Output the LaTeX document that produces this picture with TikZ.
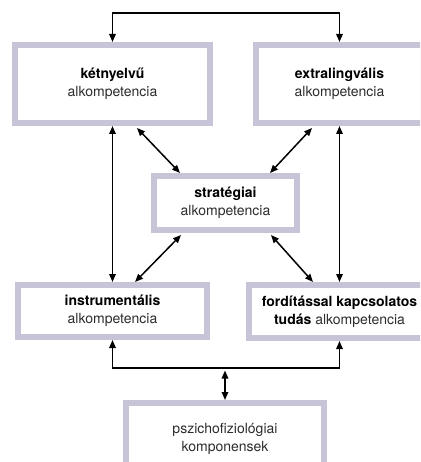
\documentclass[tikz,border=0pt]{standalone}
\usepackage{fontspec}
\setmainfont{TeX Gyre Heros}
\usetikzlibrary{arrows.meta}
\definecolor{boxborder}{RGB}{198,196,214}
\definecolor{txtgray}{RGB}{45,45,45}
\tikzset{
  compbox/.style={draw=boxborder, line width=6pt, fill=white, align=center,
    inner sep=0pt, font=\fontsize{14}{18}\selectfont, text=txtgray},
  dbl/.style={line width=1.5pt, {Triangle[length=8pt,width=6.5pt]}-{Triangle[length=8pt,width=6.5pt]}},
}
\begin{document}
\begin{tikzpicture}[x=1pt,y=-1pt]
\useasboundingbox (0,0) rectangle (420,462);
\clip (0,0) rectangle (420,462);
\node[compbox, minimum width=195pt, minimum height=78pt] (k) at (112.5,84)
  {\textbf{\color{black}kétnyelvű}\\alkompetencia};
\node[compbox, minimum width=167pt, minimum height=78pt] (e) at (339.5,84)
  {\textbf{\color{black}extralingvális}\\alkompetencia};
\node[compbox, minimum width=143pt, minimum height=54pt] (s) at (225.5,203)
  {\textbf{\color{black}stratégiai}\\alkompetencia};
\node[compbox, minimum width=189pt, minimum height=52pt] (i) at (112.5,311)
  {\textbf{\color{black}instrumentális}\\alkompetencia};
\node[compbox, minimum width=181pt, minimum height=53pt] (f) at (339.5,311.5)
  {\textbf{\color{black}fordítással kapcsolatos}\\\textbf{\color{black}tudás} alkompetencia};
\node[compbox, minimum width=198pt, minimum height=72pt] (p) at (225,439)
  {pszichofiziológiai\\komponensek};
\coordinate (top) at (225,13);
\coordinate (bot) at (225,368);
\draw[dbl] (k.north) |- (top) -| (e.north);
\draw[dbl] (k.south) -- (i.north);
\draw[dbl] (e.south) -- (f.north);
\draw[dbl] ([xshift=24.5pt,yshift=-2pt]k.south) -- ([xshift=-45.5pt]s.north);
\draw[dbl] ([xshift=-27.5pt,yshift=-2pt]e.south) -- ([xshift=44.5pt]s.north);
\draw[dbl] ([xshift=-44.5pt,yshift=-2pt]s.south) -- ([xshift=22.5pt]i.north);
\draw[dbl] ([xshift=45.5pt,yshift=-2pt]s.south) -- ([xshift=-26.5pt]f.north);
\draw[dbl] (i.south) |- (bot) -| (f.south);
\draw[dbl] ([yshift=-2.5pt]bot) -- (p.north);
\end{tikzpicture}
\end{document}
